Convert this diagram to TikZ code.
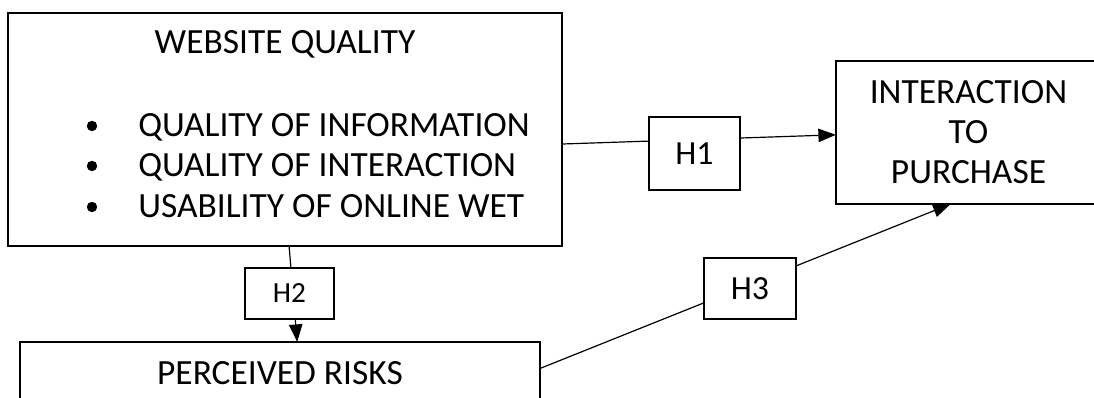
\documentclass[tikz,border=0pt]{standalone}
\usepackage{fontspec}
\setmainfont{Carlito}
\usetikzlibrary{arrows.meta}

\begin{document}
\begin{tikzpicture}[x=0.025cm, y=-0.025cm,
    box/.style={draw, line width=1pt, inner sep=0pt, outer sep=0pt},
    hbox/.style={box, fill=white},
    link/.style={line width=0.85pt, -{Triangle[length=12.5pt,width=9.5pt]}},
    dot/.style={circle, fill, inner sep=0pt, minimum size=0.26cm},
    big/.style={font=\fontsize{25.2}{28.5}\selectfont}]
        \useasboundingbox (0,0) rectangle (1094,398);

        % Draw the three construct boxes
        \node[box, minimum width=13.85cm, minimum height=5.825cm] (web) at (285,129.5) {};
        \node[box, big, align=center, minimum width=6.625cm, minimum height=3.575cm] (inter) at (968.5,132.5) {INTERACTION\\TO\\PURCHASE};
        \node[box, big, minimum width=13cm, minimum height=1.55cm] (risk) at (280,373) {PERCEIVED RISKS};

        % Text of the website quality box
        \node[big, anchor=base] (title) at (285,54) {WEBSITE QUALITY};
        \node[dot] (b1) at (92,126) {};
        \node[dot] (b2) at (92,166) {};
        \node[dot] (b3) at (92,207) {};
        \node[big, anchor=base west, inner sep=0pt] (i1) at (138,137) {QUALITY OF INFORMATION};
        \node[big, anchor=base west, inner sep=0pt] (i2) at (138,177) {QUALITY OF INTERACTION};
        \node[big, anchor=base west, inner sep=0pt] (i3) at (138,218) {USABILITY OF ONLINE WET};

        % Draw the hypothesis paths
        \draw[link] (web.-3.2) -- (inter.181.1);
        \draw[link] (web.-88.5) -- (risk.61.3);
        \draw[link] (risk.1.3) -- (inter.-104.5);

        % Hypothesis labels on top of the paths
        \node[hbox, font=\fontsize{24}{27}\selectfont, minimum width=2.275cm, minimum height=1.825cm] (h1) at (694.5,153.5) {H1};
        \node[hbox, font=\fontsize{20.8}{24}\selectfont, minimum width=2.225cm, minimum height=1.275cm] (h2) at (289.5,293.5) {H2};
        \node[hbox, font=\fontsize{24}{27}\selectfont, minimum width=2.3cm, minimum height=1.525cm] (h3) at (750,288.5) {H3};
    \end{tikzpicture}
\end{document}
